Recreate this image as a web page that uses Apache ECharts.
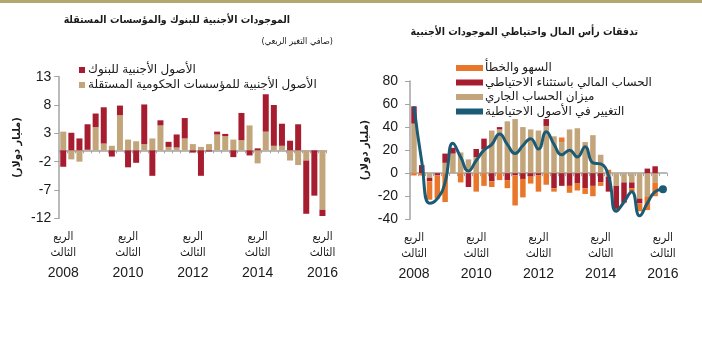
<!DOCTYPE html>
<html><head><meta charset="utf-8">
<script src="https://cdn.jsdelivr.net/npm/echarts@6/dist/echarts.min.js"></script>
<style>html,body{margin:0;padding:0;background:#fff}#c{width:702px;height:351px}</style>
</head><body><div id="c"></div>
<script>
const quarters = ['2008Q3','2008Q4','2009Q1','2009Q2','2009Q3','2009Q4','2010Q1','2010Q2','2010Q3','2010Q4',
  '2011Q1','2011Q2','2011Q3','2011Q4','2012Q1','2012Q2','2012Q3','2012Q4','2013Q1','2013Q2','2013Q3','2013Q4',
  '2014Q1','2014Q2','2014Q3','2014Q4','2015Q1','2015Q2','2015Q3','2015Q4','2016Q1','2016Q2','2016Q3'];
const leftTicks = [-12, -7, -2, 3, 8, 13];
// left panel: net quarterly change, billion USD
const leftTan = [3.3,-1.6,-2.0,0.1,4.1,1.2,0.8,6.2,1.9,1.6,1.1,2.1,4.4,0.6,0.5,2.1,1.1,0.6,1.1,2.8,2.5,1.9,1.8,4.4,-2.3,3.3,0.8,0.8,-1.8,-2.6,-1.8,0,-10.5];
const leftRed = [-2.9,3.1,2.1,4.5,2.4,6.4,-1.1,1.7,-3.0,-2.2,7.0,-4.5,0.9,0.9,2.3,3.6,-0.4,-4.5,-0.2,0.5,0.4,-1.2,4.8,-0.9,0.35,6.6,7.2,3.9,1.7,4.6,-9.4,-8.0,-1.1];
// right panel
const rightTan    = [43,0,-4,0,9,17,18,12,14,21,37,38,45,47,40,38,37,41,32,27,38,39,27,33,16,-3,-11,-8,-8,-22,-20,-8,null];
const rightRed    = [15,7,-3,-2,8,5,0,-12,7,9,-7,2,-6,-2,-5,-3,-2,6,-13,-11,-11,-9,-13,-11,-8,-13,-20,-17,-5,-4,4,6,null];
const rightOrange = [-2,-2,-16,-20,-25,0,-8,0,-16,-11,-5,-6,-7,-26,-16,-6,-14,-10,-3,4,-6,-6,-5,-9,-3,3,-2,-1,-3,-7,-12,-12,null];
const reserveChange = [58,10,-26,-22,-8,26,14,2,11,20,25,34,25,17,24,30,21,36,25,16,20,14,23,9,8,-2,-33,-25,-16,-37,-26,-16,-14];

const names = {
  lRed: 'الأصول الأجنبية للبنوك',
  lTan: 'الأصول الأجنبية للمؤسسات الحكومية المستقلة',
  rOrange: 'السهو والخطأ',
  rRed: 'الحساب المالي باستثناء الاحتياطي',
  rTan: 'ميزان الحساب الجاري',
  rLine: 'التغيير في الأصول الاحتياطية'
};
const C = {tan:'#c2a57b', red:'#a71d30', orange:'#e8772b', line:'#1c5b74', axis:'#a3a3a3', text:'#1a1a1a'};
const FF = 'Liberation Sans, DejaVu Sans, sans-serif';
const FT = 'DejaVu Sans Condensed, DejaVu Sans, sans-serif';

const chart = echarts.init(document.getElementById('c'), null, {renderer:'canvas'});

function zeroAxis(gi){
  return {type:'category', gridIndex:gi, data:quarters, boundaryGap:true,
    axisLine:{onZero:true, lineStyle:{color:C.axis, width:1.5}},
    axisTick:{show:true, interval:0, length:3, lineStyle:{color:C.axis}},
    axisLabel:{show:false}, splitLine:{show:false}};
}
function labelAxis(gi){
  return {type:'category', gridIndex:gi, data:quarters, position:'bottom', boundaryGap:true,
    axisLine:{show:false, onZero:false}, axisTick:{show:false}, splitLine:{show:false},
    axisLabel:{interval:7, margin:11, fontFamily:FF, color:C.text,
      formatter:(v)=> '{a|الربع}\n{a|الثالث}\n{b|' + v.slice(0,4) + '}',
      rich:{a:{fontSize:11.5, lineHeight:16, fontFamily:FT, color:C.text}, b:{fontSize:14, lineHeight:24, fontFamily:FF, color:C.text}}}};
}
const yName = '(مليار دولار)';

chart.setOption({
  animation:false,
  backgroundColor:'#fff',
  graphic:[{type:'rect', shape:{x:0,y:0,width:702,height:3}, style:{fill:'#b3a66e'}}],
  title:[
    {text:'الموجودات الأجنبية للبنوك والمؤسسات المستقلة', right:412, top:15, padding:0,
     textStyle:{fontSize:10.5, fontWeight:'bold', color:C.text, fontFamily:FT}},
    {text:'(صافي التغير الربعي)', right:369, top:37, padding:0,
     textStyle:{fontSize:9, fontWeight:'normal', color:C.text, fontFamily:FT}},
    {text:'تدفقات رأس المال واحتياطي الموجودات الأجنبية', right:64, top:27, padding:0,
     textStyle:{fontSize:10.5, fontWeight:'bold', color:C.text, fontFamily:FT}}
  ],
  legend:[
    {data:[names.lRed, names.lTan], orient:'vertical', left:79, top:64, padding:0,
     itemWidth:6, itemHeight:6, itemGap:3, icon:'rect',
     textStyle:{fontSize:12, color:C.text, fontFamily:FF, padding:[0,0,0,-2]}},
    {data:[{name:names.rOrange, icon:'rect'},{name:names.rRed, icon:'rect'},{name:names.rTan, icon:'rect'},
           {name:names.rLine, icon:'rect', itemStyle:{color:C.line}}],
     orient:'vertical', left:456, top:62, padding:0,
     itemWidth:27, itemHeight:6, itemGap:2.5,
     textStyle:{fontSize:12, color:C.text, fontFamily:FF, padding:[0,0,0,-3]}}
  ],
  grid:[
    {left:59.2, top:76.7, width:267.3, height:141.6},
    {left:410.1, top:81, width:256.7, height:138.3}
  ],
  xAxis:[zeroAxis(0), labelAxis(0), zeroAxis(1), labelAxis(1)],
  yAxis:[
    {type:'value', gridIndex:0, min:-12, max:13,
     name:yName, nameLocation:'middle', nameGap:37, nameRotate:90,
     nameTextStyle:{fontSize:11, fontWeight:'bold', color:C.text, fontFamily:FT},
     axisLine:{show:true, lineStyle:{color:C.axis, width:1.5}},
     axisTick:{show:true, length:5, customValues:leftTicks, lineStyle:{color:C.axis}},
     axisLabel:{customValues:leftTicks, fontSize:14, color:C.text, fontFamily:FF, margin:8},
     splitLine:{show:false}},
    {type:'value', gridIndex:1, min:-40, max:80, interval:20,
     name:yName, nameLocation:'middle', nameGap:39, nameRotate:90,
     nameTextStyle:{fontSize:11, fontWeight:'bold', color:C.text, fontFamily:FT},
     axisLine:{show:true, lineStyle:{color:C.axis, width:1.5}},
     axisTick:{show:true, length:5, lineStyle:{color:C.axis}},
     axisLabel:{fontSize:14, color:C.text, fontFamily:FF, margin:12},
     splitLine:{show:false}}
  ],
  series:[
    {name:names.lTan, type:'bar', stack:'L', xAxisIndex:0, yAxisIndex:0, data:leftTan, barWidth:6, itemStyle:{color:C.tan}},
    {name:names.lRed, type:'bar', stack:'L', xAxisIndex:0, yAxisIndex:0, data:leftRed, barWidth:6, itemStyle:{color:C.red}},
    {name:names.rTan, type:'bar', stack:'R', xAxisIndex:2, yAxisIndex:1, data:rightTan, barWidth:5.5, itemStyle:{color:C.tan}},
    {name:names.rRed, type:'bar', stack:'R', xAxisIndex:2, yAxisIndex:1, data:rightRed, barWidth:5.5, itemStyle:{color:C.red}},
    {name:names.rOrange, type:'bar', stack:'R', xAxisIndex:2, yAxisIndex:1, data:rightOrange, barWidth:5.5, itemStyle:{color:C.orange}},
    {name:names.rLine, type:'line', xAxisIndex:2, yAxisIndex:1, smooth:0.5, symbol:'none', showSymbol:true, showAllSymbol:true,
     data: reserveChange.map((v,i)=> i===reserveChange.length-1 ? {value:v, symbol:'circle', symbolSize:8} : v),
     lineStyle:{color:C.line, width:3}, itemStyle:{color:C.line}, z:5}
  ]
});
</script></body></html>
